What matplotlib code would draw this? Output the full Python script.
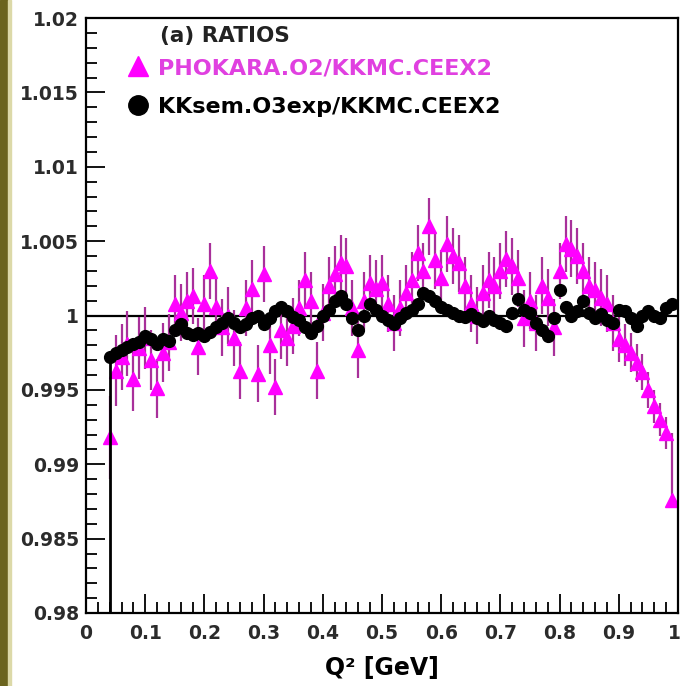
import matplotlib
matplotlib.use("Agg")
import matplotlib.pyplot as plt
from matplotlib.ticker import MultipleLocator, FuncFormatter
from matplotlib.patches import Rectangle
from matplotlib.lines import Line2D
from matplotlib.transforms import ScaledTranslation

# ---------------- data ----------------
q2 = [round(0.04 + 0.01 * i, 3) for i in range(96)]

phokara = [
    0.9918, 0.9963, 0.9972, 0.9981, 0.9957, 0.9978, 0.9985, 0.9970, 0.9951, 0.9975,
    0.9982, 1.0008, 1.0002, 1.0010, 1.0013, 0.9979, 1.0008, 1.0030, 1.0006, 0.9992,
    1.0000, 0.9985, 0.9963, 1.0005, 1.0018, 0.9961, 1.0028, 0.9980, 0.9952, 0.9990,
    0.9985, 0.9993, 1.0005, 1.0024, 1.0010, 0.9963, 1.0002, 1.0020, 1.0028, 1.0035,
    1.0033, 1.0005, 0.9977, 1.0010, 1.0022, 1.0018, 1.0022, 1.0008, 0.9995, 1.0005,
    1.0015, 1.0024, 1.0042, 1.0030, 1.0060, 1.0037, 1.0025, 1.0048, 1.0040, 1.0035,
    1.0020, 1.0008, 1.0000, 1.0015, 1.0024, 1.0020, 1.0030, 1.0038, 1.0033, 1.0025,
    0.9998, 1.0010, 0.9995, 1.0020, 1.0012, 0.9992, 1.0030, 1.0048, 1.0045, 1.0040,
    1.0030, 1.0020, 1.0017, 1.0012, 1.0008, 0.9995, 0.9984, 0.9980, 0.9975, 0.9968,
    0.9962, 0.9950, 0.9939, 0.9930, 0.9921, 0.9876,
]
phokara_err_up = (
    [0.0028, 0.0024, 0.0022, 0.0022, 0.0021, 0.0021, 0.0021, 0.0020, 0.0020, 0.0020]
    + [0.0019] * 76
    + [0.0015, 0.0014, 0.0013, 0.0013, 0.0012, 0.0012, 0.0011, 0.0011, 0.0011, 0.0045]
)
phokara_err_lo = (
    [0.0028, 0.0024, 0.0022, 0.0022, 0.0021, 0.0021, 0.0021, 0.0020, 0.0020, 0.0020]
    + [0.0019] * 76
    + [0.0015, 0.0014, 0.0013, 0.0013, 0.0012, 0.0012, 0.0011, 0.0011, 0.0011, 0.0005]
)

kksem = [
    0.9972, 0.9975, 0.9977, 0.9979, 0.9981, 0.9982, 0.9986, 0.9984, 0.9981, 0.9984,
    0.9983, 0.9990, 0.9994, 0.9988, 0.9987, 0.9988, 0.9986, 0.9989, 0.9992, 0.9995,
    0.9998, 0.9995, 0.9992, 0.9994, 0.9998, 1.0000, 0.9994, 0.9998, 1.0003, 1.0006,
    1.0003, 0.9999, 0.9997, 0.9992, 0.9988, 0.9993, 1.0000, 1.0004, 1.0010, 1.0013,
    1.0008, 0.9998, 0.9990, 1.0000, 1.0008, 1.0004, 1.0000, 0.9997, 0.9994, 0.9998,
    1.0002, 1.0004, 1.0008, 1.0015, 1.0013, 1.0010, 1.0006, 1.0004, 1.0002, 1.0000,
    0.9999, 1.0001, 0.9998, 0.9996, 1.0000, 0.9997, 0.9995, 0.9993, 1.0002, 1.0011,
    1.0004, 1.0002, 0.9995, 0.9990, 0.9986, 0.9998, 1.0017, 1.0006, 1.0000, 1.0003,
    1.0010, 1.0002, 0.9998, 1.0001, 0.9997, 0.9995, 1.0004, 1.0003, 0.9998, 0.9993,
    1.0000, 1.0003, 1.0000, 0.9998, 1.0005, 1.0008,
]
kksem_err = [0.0003] * 96

x_ticks = [0, 0.1, 0.2, 0.3, 0.4, 0.5, 0.6, 0.7, 0.8, 0.9, 1.0]
y_ticks = [0.98, 0.985, 0.99, 0.995, 1.0, 1.005, 1.01, 1.015, 1.02]

title_text = "(a) RATIOS"
label_phokara = "PHOKARA.O2/KKMC.CEEX2"
label_kksem = "KKsem.O3exp/KKMC.CEEX2"
x_label = "Q\u00b2 [GeV]"

MAGENTA = "#ff00ff"
MAGENTA_ERR = "#a8309a"
MAGENTA_TXT = "#e040e0"

# ---------------- figure ----------------
plt.rcParams["font.family"] = ["DejaVu Sans"]
W, H = 682, 686
fig = plt.figure(figsize=(W / 100, H / 100), dpi=100)
fig.patch.set_facecolor("white")
fig.patches.append(Rectangle((0, 0), 8 / W, 1, transform=fig.transFigure,
                             color="#6b641e", zorder=-5))
fig.patches.append(Rectangle((8 / W, 0), 3 / W, 1, transform=fig.transFigure,
                             color="#dcd9a8", zorder=-5))

ax = fig.add_axes([86 / W, 1 - 613 / H, 592 / W, 595 / H])
ax.set_xlim(0, 1)
ax.set_ylim(0.98, 1.02)

ax.axhline(1.0, color="black", lw=1.6, zorder=1)
ax.vlines(q2[0], 0.98, kksem[0], color="black", lw=2.0, zorder=3)

ax.errorbar(q2, phokara, yerr=[phokara_err_lo, phokara_err_up], fmt="^",
            color=MAGENTA, mec=MAGENTA, ms=10, ecolor=MAGENTA_ERR,
            elinewidth=1.6, capsize=0, zorder=2)
ax.errorbar(q2, kksem, yerr=kksem_err, fmt="o", color="black", mec="black",
            ms=8.5, ecolor="black", elinewidth=1.5, capsize=0, zorder=4)

for s in ax.spines.values():
    s.set_linewidth(1.6)

ax.set_xticks(x_ticks)
ax.xaxis.set_minor_locator(MultipleLocator(0.02))
ax.set_yticks(y_ticks)
ax.yaxis.set_minor_locator(MultipleLocator(0.001))
fmt = FuncFormatter(lambda v, p: "%g" % round(v, 4))
ax.xaxis.set_major_formatter(fmt)
ax.yaxis.set_major_formatter(fmt)

ax.tick_params(which="both", direction="in", top=False, right=False,
               width=1.3, color="black")
ax.tick_params(which="major", length=14, labelsize=13.5, labelcolor="#2b2b2b")
ax.tick_params(axis="x", which="major", pad=8)
ax.tick_params(axis="y", which="major", pad=5)
ax.tick_params(which="minor", length=8)

fig.canvas.draw()
xlabs = ax.get_xticklabels()
for lab in xlabs + ax.get_yticklabels():
    lab.set_fontweight("bold")
# nudge the last x tick label so it stays inside the image
xlabs[-1].set_transform(xlabs[-1].get_transform()
                        + ScaledTranslation(-4 / 100, 0, fig.dpi_scale_trans))

ax.set_xlabel(x_label, fontsize=17, fontweight="bold", labelpad=9)

ax.text((160 - 86) / 592, (613 - 36) / 595, title_text, transform=ax.transAxes,
        fontsize=15.5, fontweight="bold", color="#222222", va="center", ha="left")

handles = [
    Line2D([], [], marker="^", ls="none", color=MAGENTA, mec=MAGENTA, ms=15),
    Line2D([], [], marker="o", ls="none", color="black", mec="black", ms=14),
]
leg = ax.legend(handles, [label_phokara, label_kksem], loc="upper left",
                bbox_to_anchor=((127 - 86) / 592, (613 - 58) / 595),
                frameon=False, borderpad=0, borderaxespad=0,
                handlelength=0.95, handletextpad=0.45, labelspacing=0.85,
                prop={"size": 16, "weight": "bold"},
                labelcolor=[MAGENTA_TXT, "black"])

fig.savefig("out.png", dpi=100)
